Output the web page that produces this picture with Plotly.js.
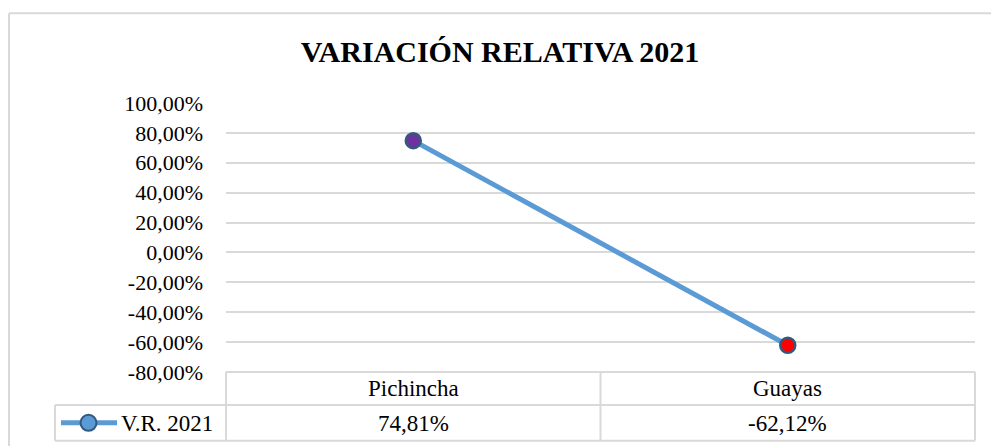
<!DOCTYPE html>
<html>
<head>
<meta charset="utf-8">
<script src="https://cdn.plot.ly/plotly-3.0.1.min.js"></script>
</head>
<body style="margin:0;background:#fff">
<div id="chart" style="width:991px;height:446px"></div>
<script>
// ---- data ----
const categories = ["Pichincha", "Guayas"];
const values = [74.81, -62.12];
const seriesName = "V.R. 2021";
const markerColors = ["#7030A0", "#FF0000"];
const chartTitle = "VARIACIÓN RELATIVA 2021";
const tickValues = [-80, -60, -40, -20, 0, 20, 40, 60, 80, 100];

// ---- layout helpers (pixel -> paper) ----
const L = 226, R = 975, T = 102.5, B = 372.5;
const W = 991, H = 446;
const px = p => (p - L) / (R - L);
const py = p => (B - p) / (B - T);

const fmt = v => v.toFixed(2).replace('.', ',') + '%';
const grid = "#d9d9d9";
const tf = s => ({ family: "Liberation Serif, Times New Roman, serif", size: s, color: "#000000" });

const trace = {
  x: categories,
  y: values,
  type: "scatter",
  mode: "lines+markers",
  name: seriesName,
  showlegend: false,
  line: { color: "#5B9BD5", width: 5 },
  marker: { size: 15, color: markerColors, line: { color: "#34597f", width: 2.5 } },
  cliponaxis: false,
  hoverinfo: "skip"
};

const shapes = [];
const hline = (x0, x1, y, w) => shapes.push({ type: "line", xref: "paper", yref: "paper",
  x0: px(x0), x1: px(x1), y0: py(y), y1: py(y), line: { color: grid, width: w || 2 } });
const vline = (x, y0, y1, w) => shapes.push({ type: "line", xref: "paper", yref: "paper",
  x0: px(x), x1: px(x), y0: py(y0), y1: py(y1), line: { color: grid, width: w || 2 } });

// outer chart border
hline(9, 995, 12.5, 2);
vline(9, 12.5, 450, 2);
// data table
hline(L, R, 372.5);
hline(55, R, 405.5);
hline(55, R, 441.5);
vline(L, 372.5, 441.5);
vline(600.5, 372.5, 441.5);
vline(R, 372.5, 441.5);
vline(55, 405.5, 441.5);
// legend key
shapes.push({ type: "line", xref: "paper", yref: "paper", x0: px(61), x1: px(117), y0: py(423.5), y1: py(423.5),
  line: { color: "#5B9BD5", width: 5 } });
shapes.push({ type: "circle", xref: "paper", yref: "paper", x0: px(80.5), x1: px(96.5), y0: py(415.5), y1: py(431.5),
  fillcolor: "#5B9BD5", line: { color: "#34597f", width: 2 } });

const annotations = [];
categories.forEach((c, i) => {
  annotations.push({ x: c, xref: "x", y: py(389), yref: "paper", text: c, showarrow: false,
    xanchor: "center", yanchor: "middle", font: tf(23) });
  annotations.push({ x: c, xref: "x", y: py(424), yref: "paper", text: fmt(values[i]), showarrow: false,
    xanchor: "center", yanchor: "middle", font: tf(23) });
});
annotations.push({ x: px(119), xref: "paper", y: py(424), yref: "paper", text: seriesName, showarrow: false,
  xanchor: "left", yanchor: "middle", font: tf(23) });

const layout = {
  width: W, height: H,
  margin: { l: L, r: W - R, t: T, b: H - B, pad: 0 },
  paper_bgcolor: "#ffffff", plot_bgcolor: "#ffffff",
  title: { text: "<b>" + chartTitle + "</b>", x: 500 / W, xanchor: "center", y: 1 - 51 / H, yanchor: "middle",
    font: tf(30) },
  xaxis: { type: "category", range: [-0.5, 1.5], showgrid: false, zeroline: false,
    showticklabels: false, ticks: "", showline: false },
  yaxis: { range: [-80, 100], tickmode: "array", tickvals: tickValues, ticktext: tickValues.map(fmt),
    showgrid: true, gridcolor: grid, gridwidth: 2, zeroline: false, showline: false,
    ticks: "", ticklabelstandoff: 22, tickfont: tf(22) },
  shapes: shapes,
  annotations: annotations,
  showlegend: false
};

Plotly.newPlot("chart", [trace], layout, { displayModeBar: false });
</script>
</body>
</html>
